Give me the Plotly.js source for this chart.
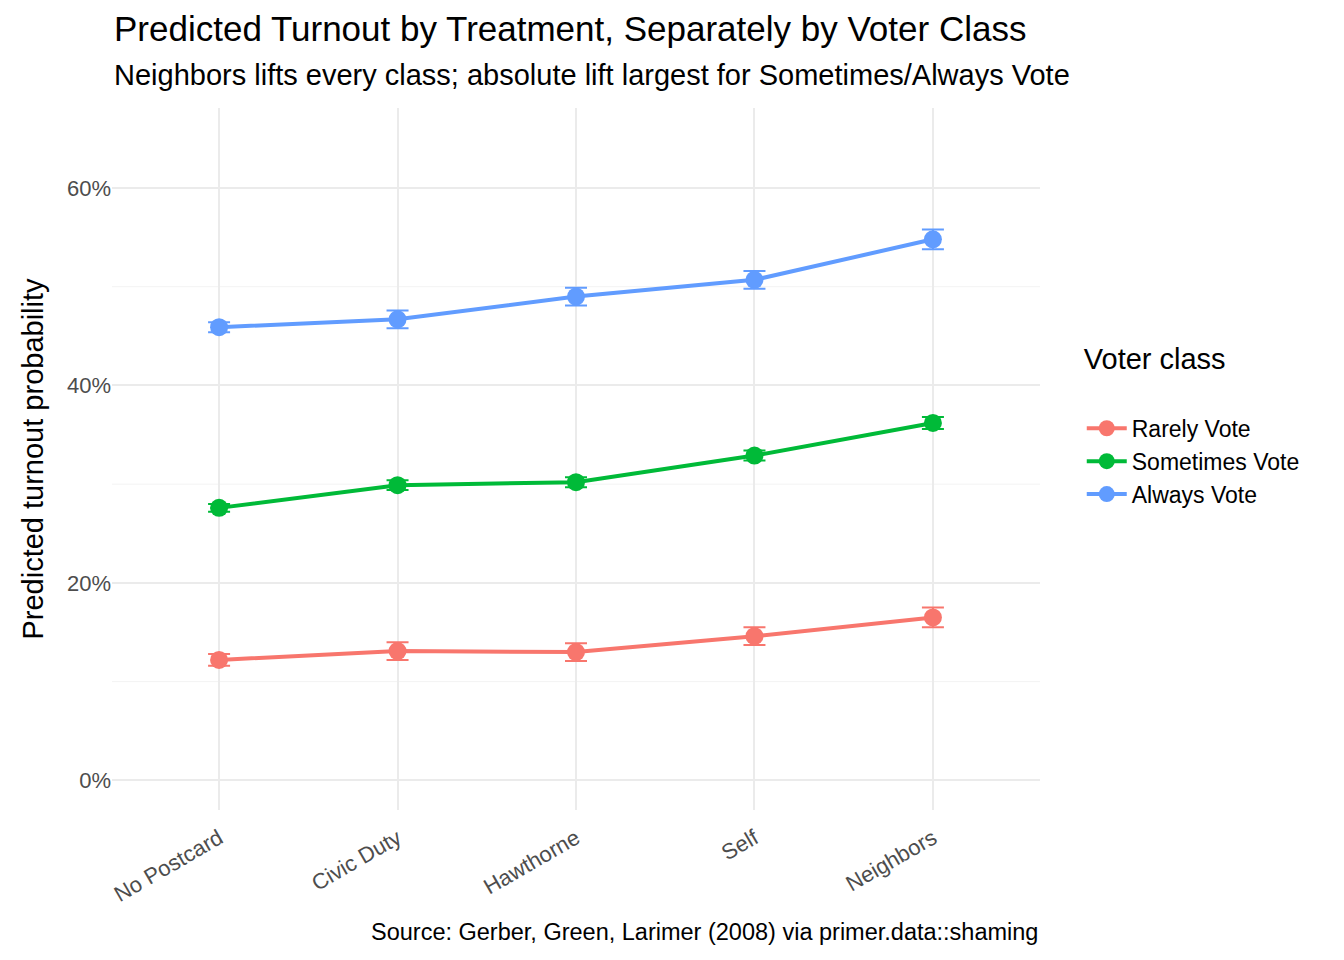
<!DOCTYPE html>
<html><head><meta charset="utf-8">
<script src="https://cdn.plot.ly/plotly-3.0.1.min.js"></script>
<style>body{margin:0;background:#fff}#chart{width:1344px;height:960px}</style>
</head><body><div id="chart"></div>
<script>
const treatments = ['No Postcard', 'Civic Duty', 'Hawthorne', 'Self', 'Neighbors'];
const classNames = ['Rarely Vote', 'Sometimes Vote', 'Always Vote'];
const classColors = ['#F8766D', '#00BA38', '#619CFF'];
const rarely = [0.122, 0.131, 0.130, 0.146, 0.165];
const rarelyErr = [0.006, 0.009, 0.009, 0.009, 0.010];
const sometimes = [0.276, 0.299, 0.302, 0.329, 0.362];
const sometimesErr = [0.004, 0.005, 0.005, 0.005, 0.006];
const always = [0.459, 0.467, 0.490, 0.507, 0.548];
const alwaysErr = [0.005, 0.009, 0.009, 0.009, 0.010];

const series = [[rarely, rarelyErr], [sometimes, sometimesErr], [always, alwaysErr]];
const traces = series.map(([y, e], i) => ({
    x: treatments, y: y, name: classNames[i], type: 'scatter', mode: 'lines+markers',
    line: { color: classColors[i], width: 4 }, marker: { color: classColors[i], size: 18 },
    error_y: { type: 'data', array: e, color: classColors[i], thickness: 2, width: 11 }
}));

const font = { family: 'Liberation Sans, Arial, sans-serif', color: '#000' };
const layout = {
    paper_bgcolor: '#fff', plot_bgcolor: '#fff',
    margin: { l: 112, r: 304, t: 108, b: 150 },
    font: { ...font, size: 18 },
    showlegend: true,
    legend: { x: 1.045, y: 0.55, yanchor: 'middle', font: { size: 23 },
        title: { text: 'Voter class<br> ', font: { size: 29 } }, itemwidth: 40, tracegroupgap: 8 },
    xaxis: { range: [-0.6, 4.6], showgrid: true, gridcolor: '#ebebeb', gridwidth: 2, zeroline: false,
        tickangle: -30, tickfont: { size: 22, color: '#4d4d4d' }, ticks: 'outside', ticklen: 6, tickcolor: 'rgba(0,0,0,0)' },
    yaxis: { range: [-0.03, 0.681], tickformat: '.0%', tickvals: [0, 0.2, 0.4, 0.6],
        showgrid: true, gridcolor: '#ebebeb', gridwidth: 2, zeroline: false,
        tickfont: { size: 22, color: '#4d4d4d' }, ticks: '',
        title: { text: 'Predicted turnout probability', font: { size: 29 }, standoff: 14 } },
    shapes: [0.1, 0.3, 0.5].map(v => ({ type: 'line', xref: 'paper', x0: 0, x1: 1, y0: v, y1: v,
        line: { color: '#f3f3f3', width: 1 }, layer: 'below' })),
    annotations: [
        { text: 'Predicted Turnout by Treatment, Separately by Voter Class', xref: 'paper', yref: 'paper',
          x: 0, y: 0, xanchor: 'left', yanchor: 'middle', showarrow: false, font: { size: 35 }, yshift: 782 },
        { text: 'Neighbors lifts every class; absolute lift largest for Sometimes/Always Vote', xref: 'paper', yref: 'paper',
          x: 0, y: 0, xanchor: 'left', yanchor: 'middle', showarrow: false, font: { size: 29 }, yshift: 735 },
        { text: 'Source: Gerber, Green, Larimer (2008) via primer.data::shaming', xref: 'paper', yref: 'paper',
          x: 1, y: 0, xanchor: 'right', yanchor: 'middle', showarrow: false, font: { size: 23.5 }, yshift: -122 }
    ]
};
Plotly.newPlot('chart', traces, layout, { displayModeBar: false });
</script></body></html>
